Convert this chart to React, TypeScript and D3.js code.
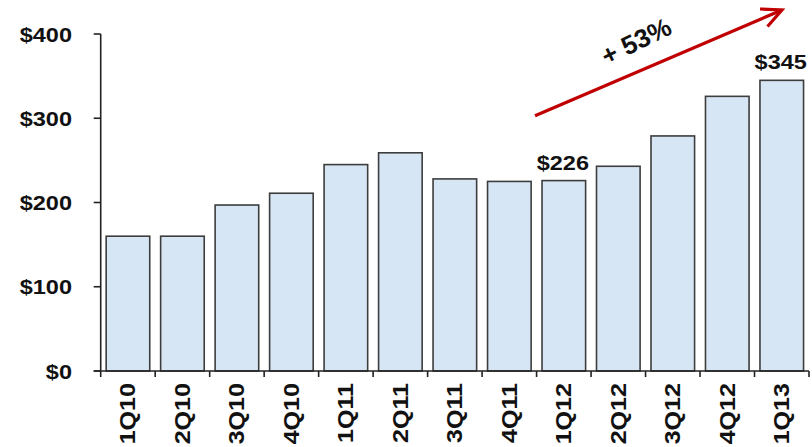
import React from "react";
import * as d3 from "d3";

const categories = ["1Q10","2Q10","3Q10","4Q10","1Q11","2Q11","3Q11","4Q11","1Q12","2Q12","3Q12","4Q12","1Q13"];
const values = [160, 160, 197, 211, 245, 259, 228, 225, 226, 243, 279, 326, 345];
const yTicks = [0, 100, 200, 300, 400];
const labeled = ["1Q12", "1Q13"];
const growthText = "+ 53%";

const W = 812, H = 447;
const FONT = "'Liberation Sans', Arial, sans-serif";

export default function App() {
  const x = d3.scaleBand<string>().domain(categories).range([100.7, 809]).paddingInner(0.2).paddingOuter(0.1);
  const y = d3.scaleLinear().domain([0, 400]).range([371, 34]);
  const step = x.step();
  const x0 = 100.7;

  const ax1 = (x("1Q12") as number) - 7, ay1 = y(303);
  const ax2 = (x("1Q13") as number) + 22, ay2 = y(428.5);
  const ang = Math.atan2(ay2 - ay1, ax2 - ax1);
  const headLen = 22, headAng = Math.PI / 7;
  const h1 = [ax2 - headLen * Math.cos(ang - headAng), ay2 - headLen * Math.sin(ang - headAng)];
  const h2 = [ax2 - headLen * Math.cos(ang + headAng), ay2 - headLen * Math.sin(ang + headAng)];

  return (
    <svg width={W} height={H} style={{ position: "absolute", left: 0, top: 0, background: "#fff" }}>
      {categories.map((c, i) => (
        <rect key={c} x={x(c)} y={y(values[i])} width={x.bandwidth()} height={y(0) - y(values[i])}
          fill="#d7e6f4" stroke="#3d3d3d" strokeWidth={1.6} />
      ))}
      {/* y axis */}
      <line x1={x0} x2={x0} y1={y(400)} y2={y(0)} stroke="#222" strokeWidth={1.6} />
      {yTicks.map(t => (
        <g key={t}>
          <line x1={x0 - 7} x2={x0} y1={y(t)} y2={y(t)} stroke="#222" strokeWidth={1.6} />
          <text x={72} y={y(t)} dy="0.36em" textAnchor="end" fontFamily={FONT} fontWeight="bold" fontSize={21}
            fill="#111" transform={`translate(72,0) scale(1.12,1) translate(-72,0)`}>{`$${t}`}</text>
        </g>
      ))}
      {/* x axis */}
      <line x1={x0 - 7} x2={809} y1={y(0)} y2={y(0)} stroke="#222" strokeWidth={1.6} />
      {d3.range(categories.length + 1).map(i => (
        <line key={i} x1={x0 + i * step} x2={x0 + i * step} y1={y(0)} y2={y(0) + 6} stroke="#222" strokeWidth={1.6} />
      ))}
      {categories.map(c => {
        const cx = (x(c) as number) + x.bandwidth() / 2;
        return (
          <text key={c} transform={`translate(${cx + 7.5},383) rotate(-90) scale(1.14,1)`} textAnchor="end"
            fontFamily={FONT} fontWeight="bold" fontSize={22} fill="#111">{c}</text>
        );
      })}
      {labeled.map(c => {
        const v = values[categories.indexOf(c)];
        const cx = (x(c) as number) + x.bandwidth() / 2;
        return (
          <text key={c} transform={`translate(${cx - 1},${y(v) - 11}) scale(1.12,1)`} textAnchor="middle"
            fontFamily={FONT} fontWeight="bold" fontSize={21} fill="#111">{`$${v}`}</text>
        );
      })}
      {/* growth arrow */}
      <line x1={ax1} y1={ay1} x2={ax2} y2={ay2} stroke="#c00000" strokeWidth={3.2} />
      <polyline points={`${h1[0]},${h1[1]} ${ax2},${ay2} ${h2[0]},${h2[1]}`} fill="none" stroke="#c00000" strokeWidth={3.2} />
      <text transform={`translate(636,41) rotate(-26)`} textAnchor="middle" dy="0.36em"
        fontFamily={FONT} fontWeight="bold" fontSize={26} fill="#111">{growthText}</text>
    </svg>
  );
}
